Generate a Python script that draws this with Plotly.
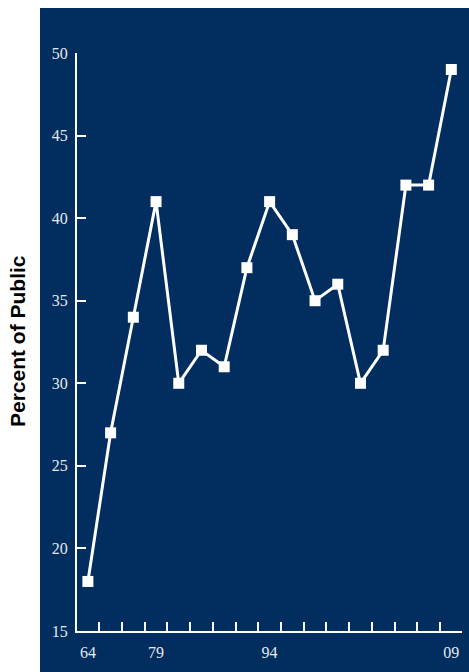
import plotly.graph_objects as go

# Data
x_index = list(range(17))
values = [18, 27, 34, 41, 30, 32, 31, 37, 41, 39, 35, 36, 30, 32, 42, 42, 49]
x_tick_positions = [0, 3, 8, 16]
x_tick_labels = ["64", "79", "94", "09"]
y_ticks = [15, 20, 25, 30, 35, 40, 45, 50]
between_ticks = [i + 0.5 for i in range(16)]

NAVY = "#012E5E"
TICKFONT = dict(family="Liberation Serif", size=16, color="#e6e9ee")

fig = go.Figure()
fig.add_trace(go.Scatter(
    x=x_index, y=values, mode="lines+markers",
    line=dict(color="white", width=3),
    marker=dict(symbol="square", size=11, color="white"),
    cliponaxis=False, hoverinfo="skip", showlegend=False,
))

L, R, T, B = 77, 7, 53, 41
W, H = 469, 672
pw, ph = W - L - R, H - T - B

fig.add_shape(type="rect", xref="paper", yref="paper",
              x0=(40 - L) / pw, x1=(W - L) / pw,
              y0=-(B) / ph, y1=1 + (T - 8) / ph,
              fillcolor=NAVY, line=dict(width=0), layer="below")

fig.add_annotation(text="<b>Percent of Public</b>", xref="paper", yref="paper",
                   x=(17 - L) / pw, y=(H - B - 341) / ph, textangle=-90,
                   showarrow=False, xanchor="center", yanchor="middle",
                   font=dict(family="Liberation Sans", size=21, color="black"))

fig.update_layout(
    width=W, height=H, autosize=False,
    margin=dict(l=L, r=R, t=T, b=B),
    paper_bgcolor="white", plot_bgcolor=NAVY,
    xaxis=dict(range=[-0.48, 16.47], tickvals=x_tick_positions, ticktext=x_tick_labels,
               ticks="", showgrid=False, zeroline=False,
               showline=True, linecolor="white", linewidth=2,
               tickfont=TICKFONT, ticklabelstandoff=6,
               minor=dict(tickvals=between_ticks, ticks="inside", ticklen=9,
                          tickwidth=1.5, tickcolor="white", showgrid=False)),
    yaxis=dict(range=[15, 50], tickvals=y_ticks, ticks="inside", ticklen=9,
               tickwidth=1.5, tickcolor="white", showgrid=False, zeroline=False,
               showline=True, linecolor="white", linewidth=2,
               tickfont=TICKFONT, ticklabelstandoff=4),
)

fig.write_html("out.html")
